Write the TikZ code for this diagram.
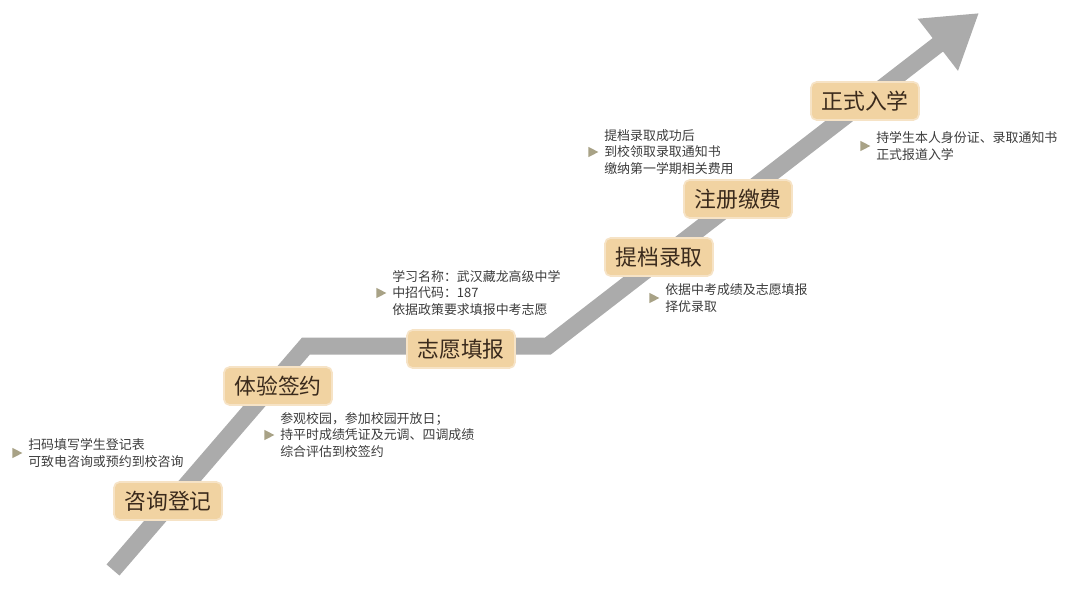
\documentclass[tikz,border=0pt]{standalone}
\usepackage{fontspec}
\setmainfont{Noto Sans CJK SC}
\usetikzlibrary{arrows.meta,shapes.geometric,positioning}
\definecolor{pathgray}{HTML}{ABABAB}
\definecolor{boxtan}{HTML}{F1D3A2}
\definecolor{boxedge}{HTML}{F6E3C6}
\definecolor{labelbrown}{HTML}{3A2A1C}
\definecolor{notegray}{HTML}{3C3C3C}
\definecolor{markolive}{HTML}{A8A286}

\tikzset{
  road/.style={pathgray, line width=0.425cm, line join=miter, line cap=butt},
  stage/.style={fill=boxtan, draw=boxedge, line width=1.2pt, rounded corners=4pt,
    minimum width=2.7cm, minimum height=0.95cm, inner sep=0pt,
    text=labelbrown, font=\fontsize{15.5}{18}\selectfont},
  note/.style={anchor=west, align=left, inner sep=0pt, text=notegray,
    font=\fontsize{9.2}{11.8}\selectfont},
  marker/.style={isosceles triangle, isosceles triangle stretches, fill=markolive,
    inner sep=0pt, minimum width=0.26cm, minimum height=0.25cm},
}

\begin{document}
\begin{tikzpicture}[x=0.025cm, y=-0.025cm]
  \useasboundingbox (0,0) rectangle (1080,592);
  % the rising road
  \coordinate (start) at (113,570);
  \coordinate (bendA) at (306,346);
  \coordinate (bendB) at (548,346);
  \coordinate (tip) at (979,13);
  \draw[road, -{Triangle[width=1.55cm, length=1.3cm]}] (start) -- (bendA) -- (bendB) -- (tip);
  % stages
  \node[stage] (s1) at (168,501) {咨询登记};
  \node[stage] (s2) at (278,386) {体验签约};
  \node[stage] (s3) at (461,349) {志愿填报};
  \node[stage] (s4) at (659,257) {提档录取};
  \node[stage] (s5) at (738,199) {注册缴费};
  \node[stage] (s6) at (865,101) {正式入学};
  % notes
  \node[note] (n1) at (28,453) {扫码填写学生登记表\\可致电咨询或预约到校咨询};
  \node[note] (n2) at (280,435) {参观校园，参加校园开放日；\\持平时成绩凭证及元调、四调成绩\\综合评估到校签约};
  \node[note] (n3) at (392,293) {学习名称：武汉藏龙高级中学\\中招代码：187\\依据政策要求填报中考志愿};
  \node[note] (n4) at (604,152) {提档录取成功后\\到校领取录取通知书\\缴纳第一学期相关费用};
  \node[note] (n5) at (665,298) {依据中考成绩及志愿填报\\择优录取};
  \node[note] (n6) at (876,146) {持学生本人身份证、录取通知书\\正式报道入学};
  \foreach \n in {n1,n2,n3,n4,n5,n6}
    \node[marker, left=3.5pt of \n] (m\n) {};
\end{tikzpicture}
\end{document}
